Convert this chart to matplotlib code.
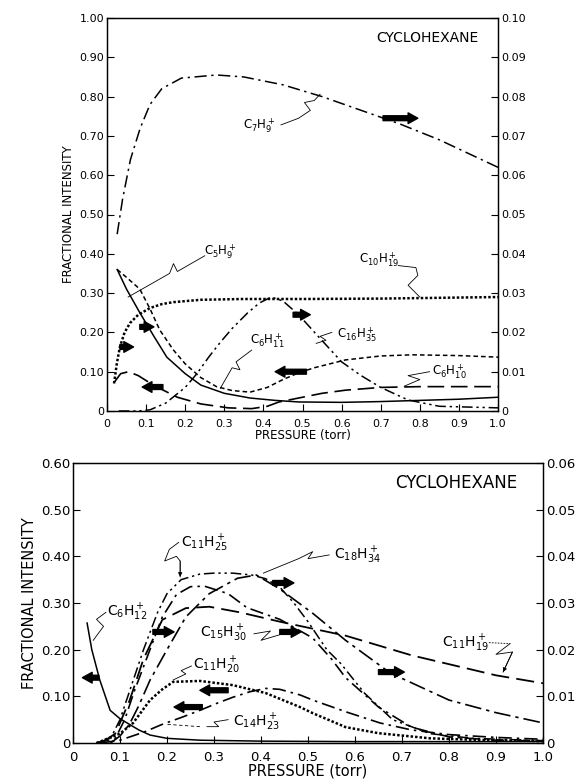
import matplotlib
matplotlib.use('Agg')
import matplotlib.pyplot as plt

plt.rcParams['font.family'] = ['DejaVu Sans']
plt.rcParams['mathtext.default'] = 'regular'

# ---- upper panel (left axis 0-1.0, right axis 0-0.10) ----
c7h9_x = [0.026, 0.04, 0.06, 0.085, 0.11, 0.14, 0.19, 0.28, 0.35, 0.45, 0.55, 0.65, 0.75, 0.85, 1.0]
c7h9_y = [0.045, 0.054, 0.064, 0.072, 0.078, 0.082, 0.0847, 0.0855, 0.085, 0.083, 0.080, 0.0765, 0.073, 0.069, 0.062]

c5h9_x = [0.026, 0.05, 0.084, 0.12, 0.153, 0.2, 0.24, 0.3, 0.366, 0.43, 0.49, 0.6, 0.7, 0.8, 0.9, 1.0]
c5h9_y = [0.036, 0.031, 0.025, 0.019, 0.0137, 0.0095, 0.0066, 0.0045, 0.0033, 0.0027, 0.0023, 0.0022,
          0.0024, 0.0027, 0.0030, 0.0035]

c10h19_x = [0.018, 0.025, 0.033, 0.045, 0.059, 0.08, 0.11, 0.14, 0.17, 0.24, 0.35, 0.5, 0.7, 0.85, 1.0]
c10h19_y = [0.007, 0.012, 0.0163, 0.020, 0.0224, 0.0245, 0.0262, 0.0272, 0.0277, 0.0283, 0.0285, 0.0285,
            0.0286, 0.0288, 0.029]

c16h35_x = [0.03, 0.08, 0.11, 0.15, 0.2, 0.23, 0.26, 0.29, 0.32, 0.36, 0.39, 0.42, 0.45, 0.49, 0.54,
            0.6, 0.65, 0.7, 0.77, 0.85, 1.0]
c16h35_y = [0.0, 0.0, 0.0003, 0.002, 0.006, 0.0095, 0.0137, 0.0175, 0.021, 0.025, 0.0275, 0.029, 0.028,
            0.0245, 0.019, 0.0125, 0.009, 0.006, 0.0028, 0.0012, 0.0008]

c6h11_x = [0.026, 0.05, 0.084, 0.11, 0.135, 0.17, 0.2, 0.24, 0.28, 0.32, 0.366, 0.41, 0.45, 0.49, 0.53,
           0.61, 0.7, 0.78, 0.9, 1.0]
c6h11_y = [0.36, 0.34, 0.31, 0.26, 0.206, 0.155, 0.12, 0.085, 0.062, 0.052, 0.048, 0.06, 0.08, 0.097,
           0.11, 0.13, 0.14, 0.143, 0.141, 0.137]

c6h10_x = [0.02, 0.035, 0.055, 0.08, 0.12, 0.18, 0.24, 0.31, 0.37, 0.41, 0.44, 0.5, 0.55, 0.61, 0.7, 0.8, 1.0]
c6h10_y = [0.075, 0.095, 0.10, 0.09, 0.065, 0.035, 0.018, 0.008, 0.006, 0.012, 0.023, 0.035, 0.045,
           0.053, 0.06, 0.062, 0.062]

# ---- lower panel (left axis 0-0.60, right axis 0-0.06) ----
c6h12_x = [0.03, 0.04, 0.057, 0.079, 0.1, 0.115, 0.14, 0.164, 0.2, 0.27, 0.4, 0.6, 0.8, 1.0]
c6h12_y = [0.257, 0.2, 0.135, 0.07, 0.052, 0.043, 0.028, 0.017, 0.01, 0.006, 0.004, 0.003, 0.003, 0.003]

c11h25_x = [0.05, 0.08, 0.1, 0.12, 0.15, 0.18, 0.2, 0.23, 0.27, 0.3, 0.34, 0.38, 0.41, 0.44, 0.47, 0.5,
            0.54, 0.57, 0.62, 0.68, 0.76, 0.85, 1.0]
c11h25_y = [0.0, 0.001, 0.005, 0.011, 0.020, 0.028, 0.032, 0.035, 0.0362, 0.0364, 0.0364, 0.036, 0.0352,
            0.0334, 0.030, 0.026, 0.020, 0.017, 0.0107, 0.005, 0.002, 0.001, 0.0005]

c15h30_x = [0.05, 0.09, 0.11, 0.13, 0.16, 0.19, 0.22, 0.25, 0.28, 0.33, 0.37, 0.44, 0.51, 0.55, 0.58, 0.65,
            0.72, 0.8, 0.9, 1.0]
c15h30_y = [0.0, 0.001, 0.005, 0.011, 0.019, 0.027, 0.0318, 0.0335, 0.0336, 0.032, 0.029, 0.0265, 0.0225,
            0.018, 0.014, 0.0077, 0.0034, 0.0013, 0.0006, 0.0004]

c18h34_x = [0.08, 0.1, 0.12, 0.14, 0.164, 0.2, 0.24, 0.29, 0.35, 0.39, 0.44, 0.51, 0.58, 0.675, 0.8, 0.9, 1.0]
c18h34_y = [0.0, 0.0015, 0.004, 0.008, 0.0135, 0.020, 0.027, 0.032, 0.0353, 0.036, 0.033, 0.0278, 0.022,
            0.015, 0.0092, 0.0065, 0.0043]

c11h19_x = [0.06, 0.09, 0.12, 0.15, 0.19, 0.24, 0.29, 0.355, 0.44, 0.58, 0.72, 0.9, 1.0]
c11h19_y = [0.0, 0.002, 0.009, 0.018, 0.0264, 0.0289, 0.0292, 0.028, 0.026, 0.023, 0.0188, 0.0145, 0.0128]

c11h20_x = [0.05, 0.1, 0.128, 0.164, 0.19, 0.213, 0.27, 0.34, 0.41, 0.483, 0.51, 0.58, 0.65, 0.76, 0.88, 1.0]
c11h20_y = [0.0, 0.02, 0.043, 0.092, 0.115, 0.131, 0.133, 0.124, 0.107, 0.077, 0.064, 0.034, 0.021,
            0.01, 0.006, 0.004]

c14h23_x = [0.06, 0.1, 0.15, 0.19, 0.234, 0.27, 0.306, 0.34, 0.377, 0.41, 0.44, 0.483, 0.51, 0.583, 0.653,
            0.72, 0.8, 0.9, 1.0]
c14h23_y = [0.0, 0.006, 0.023, 0.04, 0.056, 0.07, 0.085, 0.098, 0.11, 0.117, 0.115, 0.103, 0.092, 0.066,
            0.043, 0.028, 0.018, 0.012, 0.008]

x_ticks = [0, 0.1, 0.2, 0.3, 0.4, 0.5, 0.6, 0.7, 0.8, 0.9, 1.0]
x_tick_labels = ['0', '0.1', '0.2', '0.3', '0.4', '0.5', '0.6', '0.7', '0.8', '0.9', '1.0']
top_left_ticks = [0, 0.1, 0.2, 0.3, 0.4, 0.5, 0.6, 0.7, 0.8, 0.9, 1.0]
top_left_labels = ['0', '0.10', '0.20', '0.30', '0.40', '0.50', '0.60', '0.70', '0.80', '0.90', '1.00']
top_right_ticks = [0, 0.01, 0.02, 0.03, 0.04, 0.05, 0.06, 0.07, 0.08, 0.09, 0.10]
top_right_labels = ['0', '0.01', '0.02', '0.03', '0.04', '0.05', '0.06', '0.07', '0.08', '0.09', '0.10']
bot_left_ticks = [0, 0.1, 0.2, 0.3, 0.4, 0.5, 0.6]
bot_left_labels = ['0', '0.10', '0.20', '0.30', '0.40', '0.50', '0.60']
bot_right_ticks = [0, 0.01, 0.02, 0.03, 0.04, 0.05, 0.06]
bot_right_labels = ['0', '0.01', '0.02', '0.03', '0.04', '0.05', '0.06']

DASHDOT = (0, (8, 3, 1.5, 3))
DASHDOTDOT = (0, (7, 2.5, 1.5, 2.5, 1.5, 2.5))
SHORTDASH = (0, (3, 2))
LONGDASH = (0, (10, 4))
LONGDASHDOT = (0, (10, 3, 2, 3))
DOTTED = (0, (1, 0.8))


def style_axes(ax, ax2, lticks, llabels, rticks, rlabels, size, xpad, labsize):
    ax.set_xlim(0, 1.0)
    ax.set_xticks(x_ticks)
    ax.set_xticklabels(x_tick_labels)
    ax.set_yticks(lticks)
    ax.set_yticklabels(llabels)
    ax.set_ylim(lticks[0], lticks[-1])
    ax2.set_yticks(rticks)
    ax2.set_yticklabels(rlabels)
    ax2.set_ylim(rticks[0], rticks[-1])
    for a in (ax, ax2):
        a.tick_params(direction='in', length=5, width=0.8, labelsize=size, pad=2)
        for s in a.spines.values():
            s.set_linewidth(0.9)
    ax.tick_params(axis='x', pad=xpad)
    ax.set_xlabel('PRESSURE (torr)', fontsize=labsize, labelpad=0)
    ax.set_ylabel('FRACTIONAL INTENSITY', fontsize=labsize, labelpad=3)


def arrow(ax, x0, x1, y):
    ax.annotate('', xy=(x1, y), xytext=(x0, y),
                arrowprops=dict(arrowstyle='simple,head_length=0.5,head_width=0.55,tail_width=0.25',
                                color='k', shrinkA=0, shrinkB=0, mutation_scale=14))


def leader(ax, xs, ys, head=False):
    ax.plot(xs, ys, color='k', lw=0.6)
    if head:
        ax.annotate('', xy=(xs[-1], ys[-1]), xytext=(xs[-2], ys[-2]),
                    arrowprops=dict(arrowstyle='-|>', color='k', lw=0.6, mutation_scale=6,
                                    shrinkA=0, shrinkB=0))


fig = plt.figure(figsize=(5.83, 7.83), dpi=100)

# upper panel
ax = fig.add_axes([107 / 583, 1 - 411 / 783, 391 / 583, 393 / 783])
ax2 = ax.twinx()
ax2.plot(c7h9_x, c7h9_y, color='k', lw=1.1, ls=DASHDOT)
ax2.plot(c5h9_x, c5h9_y, color='k', lw=1.1, ls='-')
ax2.plot(c10h19_x, c10h19_y, color='k', lw=1.8, ls=DOTTED)
ax2.plot(c16h35_x, c16h35_y, color='k', lw=1.1, ls=DASHDOTDOT)
ax.plot(c6h11_x, c6h11_y, color='k', lw=1.1, ls=SHORTDASH)
ax.plot(c6h10_x, c6h10_y, color='k', lw=1.2, ls=LONGDASH)
style_axes(ax, ax2, top_left_ticks, top_left_labels, top_right_ticks, top_right_labels, 8, 6, 8.5)

ax.text(0.82, 0.95, 'CYCLOHEXANE', fontsize=10, ha='center', va='center')
ax.text(0.39, 0.725, r'C$_7$H$_9^+$', fontsize=8.5, ha='center', va='center')
leader(ax, [0.445, 0.49, 0.52, 0.505, 0.53, 0.545], [0.728, 0.745, 0.765, 0.785, 0.79, 0.806])
ax.text(0.29, 0.405, r'C$_5$H$_9^+$', fontsize=8.5, ha='center', va='center')
leader(ax, [0.25, 0.18, 0.17, 0.16, 0.054], [0.395, 0.355, 0.375, 0.35, 0.29])
ax.text(0.41, 0.18, r'C$_6$H$_{11}^+$', fontsize=8.5, ha='center', va='center')
leader(ax, [0.37, 0.33, 0.34, 0.32, 0.29], [0.155, 0.125, 0.105, 0.11, 0.058])
ax.text(0.64, 0.195, r'C$_{16}$H$_{35}^+$', fontsize=8.5, ha='center', va='center')
leader(ax, [0.575, 0.545, 0.56, 0.535], [0.2, 0.19, 0.18, 0.172])
ax.text(0.695, 0.385, r'C$_{10}$H$_{19}^+$', fontsize=8.5, ha='center', va='center')
leader(ax, [0.745, 0.79, 0.795, 0.77, 0.8], [0.37, 0.365, 0.345, 0.32, 0.29])
ax.text(0.875, 0.1, r'C$_6$H$_{10}^+$', fontsize=8.5, ha='center', va='center')
leader(ax, [0.825, 0.77, 0.8, 0.76], [0.1, 0.09, 0.08, 0.063])

arrow(ax, 0.706, 0.795, 0.745)
arrow(ax, 0.033, 0.068, 0.163)
arrow(ax, 0.084, 0.12, 0.214)
arrow(ax, 0.143, 0.09, 0.061)
arrow(ax, 0.51, 0.43, 0.10)
arrow(ax, 0.476, 0.52, 0.245)

# lower panel
bx = fig.add_axes([73 / 583, 1 - 743 / 783, 470 / 583, 280 / 783])
bx2 = bx.twinx()
bx.plot(c6h12_x, c6h12_y, color='k', lw=1.1, ls='-')
bx2.plot(c11h25_x, c11h25_y, color='k', lw=1.1, ls=DASHDOTDOT)
bx2.plot(c15h30_x, c15h30_y, color='k', lw=1.2, ls=DASHDOT)
bx2.plot(c18h34_x, c18h34_y, color='k', lw=1.2, ls=LONGDASHDOT)
bx2.plot(c11h19_x, c11h19_y, color='k', lw=1.3, ls=LONGDASH)
bx.plot(c11h20_x, c11h20_y, color='k', lw=1.8, ls=DOTTED)
bx.plot(c14h23_x, c14h23_y, color='k', lw=1.2, ls=DASHDOT)
style_axes(bx, bx2, bot_left_ticks, bot_left_labels, bot_right_ticks, bot_right_labels, 9.5, 5.5, 10.5)

bx.text(0.815, 0.557, 'CYCLOHEXANE', fontsize=12, ha='center', va='center')
bx.text(0.28, 0.428, r'C$_{11}$H$_{25}^+$', fontsize=10, ha='center', va='center')
leader(bx, [0.225, 0.205, 0.195, 0.22, 0.228, 0.228], [0.43, 0.415, 0.39, 0.4, 0.39, 0.356], head=True)
bx.text(0.605, 0.403, r'C$_{18}$H$_{34}^+$', fontsize=10, ha='center', va='center')
leader(bx, [0.545, 0.5, 0.51, 0.48, 0.405], [0.403, 0.395, 0.41, 0.395, 0.364])
bx.text(0.115, 0.28, r'C$_6$H$_{12}^+$', fontsize=10, ha='center', va='center')
leader(bx, [0.07, 0.05, 0.065, 0.043], [0.28, 0.265, 0.25, 0.22])
bx.text(0.32, 0.236, r'C$_{15}$H$_{30}^+$', fontsize=10, ha='center', va='center')
leader(bx, [0.385, 0.42, 0.4, 0.44], [0.234, 0.24, 0.22, 0.232])
bx.text(0.305, 0.167, r'C$_{11}$H$_{20}^+$', fontsize=10, ha='center', va='center')
leader(bx, [0.252, 0.23, 0.24, 0.213], [0.165, 0.155, 0.148, 0.135])
bx.text(0.39, 0.045, r'C$_{14}$H$_{23}^+$', fontsize=10, ha='center', va='center')
leader(bx, [0.33, 0.3, 0.31, 0.285], [0.05, 0.045, 0.035, 0.035])
bx.plot([0.27, 0.2], [0.035, 0.04], color='k', lw=0.6, ls=(0, (4, 3)))
bx.text(0.835, 0.214, r'C$_{11}$H$_{19}^+$', fontsize=10, ha='center', va='center')
bx.plot([0.885, 0.93], [0.215, 0.213], color='k', lw=0.6, ls=(0, (2, 1.5)))
leader(bx, [0.93, 0.9, 0.935, 0.915], [0.213, 0.19, 0.195, 0.152], head=True)

arrow(bx, 0.055, 0.02, 0.14)
arrow(bx, 0.17, 0.215, 0.238)
arrow(bx, 0.425, 0.47, 0.343)
arrow(bx, 0.44, 0.485, 0.238)
arrow(bx, 0.65, 0.705, 0.152)
arrow(bx, 0.33, 0.27, 0.113)
arrow(bx, 0.275, 0.215, 0.077)

fig.savefig('out.png', dpi=100)
